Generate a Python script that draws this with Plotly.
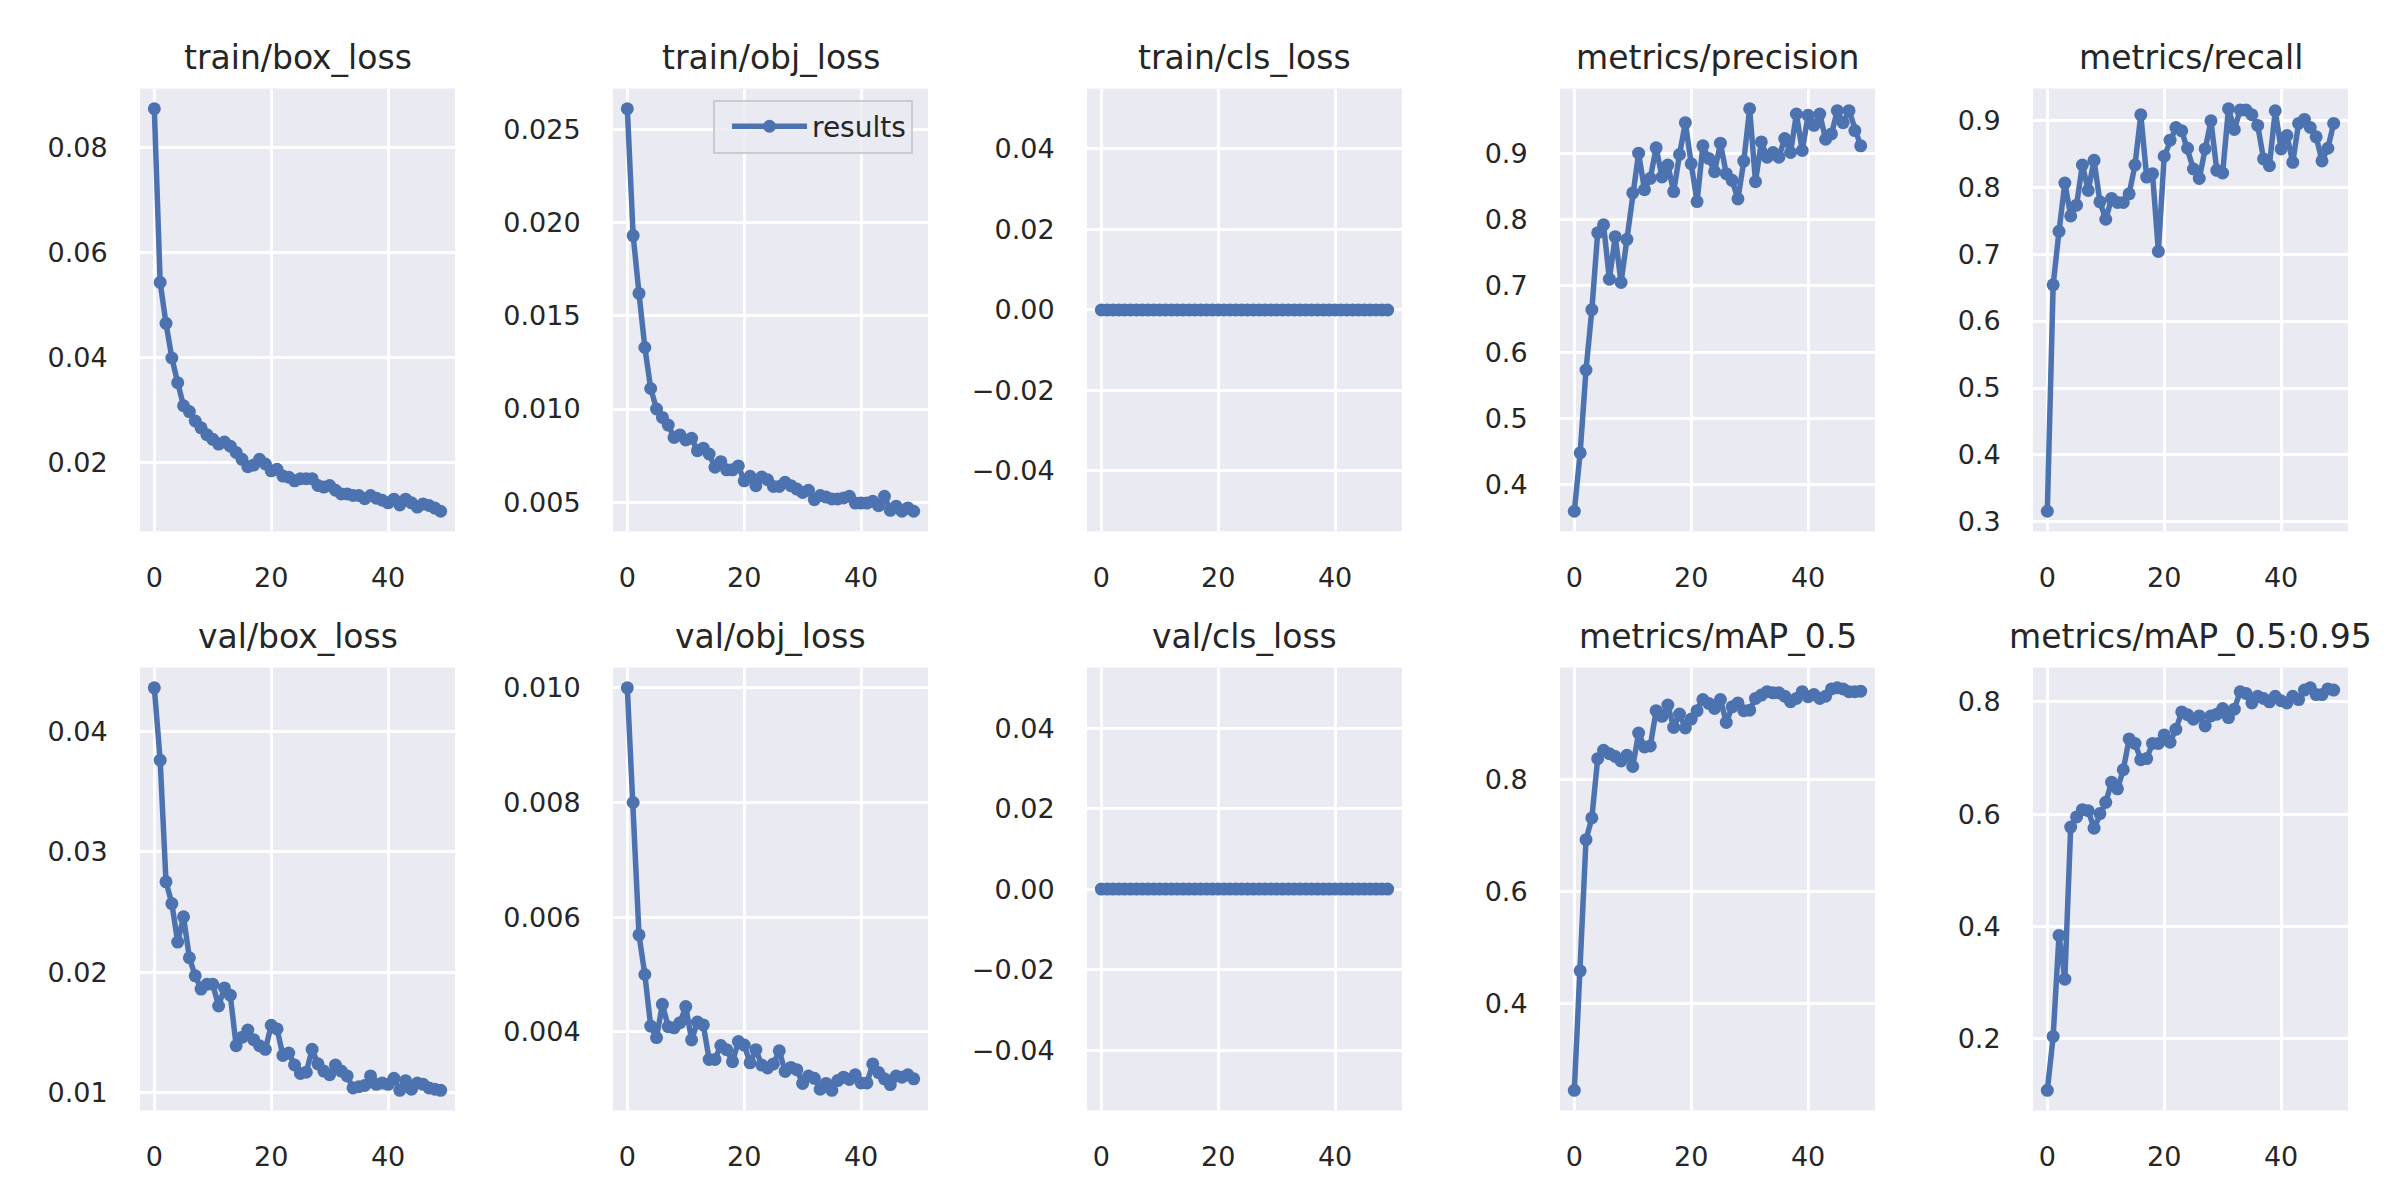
import plotly.graph_objects as go

epochs = list(range(50))

train_box_loss = [0.0874, 0.0543, 0.0465, 0.0399, 0.0352, 0.0308, 0.0297, 0.0279, 0.0266, 0.0253,
                  0.0244, 0.0235, 0.0239, 0.0231, 0.0219, 0.0206, 0.0192, 0.0195, 0.0206, 0.0197,
                  0.0184, 0.0187, 0.0174, 0.0172, 0.0165, 0.0169, 0.0169, 0.0169, 0.0156, 0.0153,
                  0.0156, 0.0147, 0.0140, 0.0140, 0.0137, 0.0137, 0.0131, 0.0137, 0.0132, 0.0128,
                  0.0123, 0.0130, 0.0119, 0.0130, 0.0123, 0.0115, 0.0121, 0.0118, 0.0113, 0.0107]

train_obj_loss = [0.0261, 0.0193, 0.0162, 0.0133, 0.0111, 0.0100, 0.00955, 0.00914, 0.00848, 0.00861,
                  0.00834, 0.00843, 0.00777, 0.00790, 0.00759, 0.00688, 0.00718, 0.00674, 0.00674, 0.00695,
                  0.00615, 0.00639, 0.00589, 0.00635, 0.00621, 0.00585, 0.00585, 0.00607, 0.00589, 0.00571,
                  0.00553, 0.00564, 0.00514, 0.00536, 0.00528, 0.00518, 0.00518, 0.00523, 0.00532, 0.00496,
                  0.00496, 0.00496, 0.00505, 0.00482, 0.00532, 0.00457, 0.00479, 0.00452, 0.00470, 0.00452]

train_cls_loss = [0.0, 0.0, 0.0, 0.0, 0.0, 0.0, 0.0, 0.0, 0.0, 0.0,
                  0.0, 0.0, 0.0, 0.0, 0.0, 0.0, 0.0, 0.0, 0.0, 0.0,
                  0.0, 0.0, 0.0, 0.0, 0.0, 0.0, 0.0, 0.0, 0.0, 0.0,
                  0.0, 0.0, 0.0, 0.0, 0.0, 0.0, 0.0, 0.0, 0.0, 0.0,
                  0.0, 0.0, 0.0, 0.0, 0.0, 0.0, 0.0, 0.0, 0.0, 0.0]

precision = [0.360, 0.448, 0.573, 0.664, 0.780, 0.792, 0.710, 0.774, 0.705, 0.770,
             0.840, 0.900, 0.845, 0.862, 0.908, 0.864, 0.882, 0.842, 0.898, 0.946,
             0.884, 0.827, 0.911, 0.892, 0.872, 0.915, 0.869, 0.859, 0.831, 0.888,
             0.967, 0.857, 0.917, 0.894, 0.901, 0.894, 0.922, 0.901, 0.959, 0.904,
             0.957, 0.942, 0.959, 0.921, 0.929, 0.964, 0.946, 0.964, 0.934, 0.911]

recall = [0.316, 0.654, 0.734, 0.806, 0.757, 0.773, 0.833, 0.795, 0.840, 0.778,
          0.752, 0.783, 0.777, 0.777, 0.790, 0.833, 0.908, 0.815, 0.820, 0.704,
          0.846, 0.870, 0.889, 0.884, 0.858, 0.827, 0.813, 0.857, 0.899, 0.825,
          0.821, 0.917, 0.886, 0.915, 0.915, 0.908, 0.892, 0.842, 0.832, 0.914,
          0.857, 0.877, 0.837, 0.895, 0.901, 0.889, 0.875, 0.839, 0.858, 0.895]

val_box_loss = [0.0436, 0.0376, 0.0275, 0.0257, 0.0225, 0.0246, 0.0212, 0.0197, 0.0186, 0.0190,
                0.0190, 0.0172, 0.0187, 0.0181, 0.0139, 0.0146, 0.0152, 0.0144, 0.0139, 0.0136,
                0.0156, 0.0153, 0.0131, 0.0133, 0.0123, 0.0116, 0.0117, 0.0136, 0.0124, 0.0118,
                0.0115, 0.0123, 0.0118, 0.0114, 0.0104, 0.0105, 0.0106, 0.0114, 0.0107, 0.0108,
                0.0107, 0.0112, 0.0102, 0.0110, 0.0103, 0.0108, 0.0107, 0.0104, 0.0103, 0.0102]

val_obj_loss = [0.0100, 0.0080, 0.00569, 0.00500, 0.00410, 0.00390, 0.00448, 0.00409, 0.00407, 0.00416,
                0.00444, 0.00386, 0.00417, 0.00412, 0.00352, 0.00352, 0.00376, 0.00369, 0.00348, 0.00383,
                0.00377, 0.00346, 0.00369, 0.00342, 0.00337, 0.00344, 0.00367, 0.00331, 0.00338, 0.00334,
                0.00310, 0.00323, 0.00319, 0.00300, 0.00310, 0.00298, 0.00315, 0.00321, 0.00317, 0.00325,
                0.00311, 0.00311, 0.00344, 0.00329, 0.00318, 0.00308, 0.00323, 0.00321, 0.00325, 0.00318]

val_cls_loss = [0.0, 0.0, 0.0, 0.0, 0.0, 0.0, 0.0, 0.0, 0.0, 0.0,
                0.0, 0.0, 0.0, 0.0, 0.0, 0.0, 0.0, 0.0, 0.0, 0.0,
                0.0, 0.0, 0.0, 0.0, 0.0, 0.0, 0.0, 0.0, 0.0, 0.0,
                0.0, 0.0, 0.0, 0.0, 0.0, 0.0, 0.0, 0.0, 0.0, 0.0,
                0.0, 0.0, 0.0, 0.0, 0.0, 0.0, 0.0, 0.0, 0.0, 0.0]

map_05 = [0.244, 0.458, 0.693, 0.732, 0.838, 0.853, 0.847, 0.842, 0.834, 0.844,
          0.824, 0.884, 0.859, 0.861, 0.924, 0.914, 0.934, 0.894, 0.918, 0.893,
          0.909, 0.924, 0.944, 0.937, 0.928, 0.944, 0.903, 0.931, 0.938, 0.924,
          0.925, 0.946, 0.952, 0.958, 0.956, 0.956, 0.950, 0.940, 0.946, 0.958,
          0.949, 0.953, 0.946, 0.950, 0.963, 0.965, 0.963, 0.958, 0.958, 0.959]

map_05_095 = [0.108, 0.204, 0.384, 0.306, 0.577, 0.595, 0.608, 0.606, 0.575, 0.601,
              0.621, 0.657, 0.645, 0.679, 0.734, 0.726, 0.697, 0.699, 0.726, 0.726,
              0.741, 0.728, 0.751, 0.782, 0.777, 0.769, 0.775, 0.757, 0.775, 0.778,
              0.788, 0.772, 0.787, 0.818, 0.815, 0.798, 0.810, 0.806, 0.800, 0.810,
              0.802, 0.798, 0.810, 0.804, 0.821, 0.825, 0.813, 0.813, 0.823, 0.821]

titles = ["train/box_loss", "train/obj_loss", "train/cls_loss", "metrics/precision", "metrics/recall",
          "val/box_loss", "val/obj_loss", "val/cls_loss", "metrics/mAP_0.5", "metrics/mAP_0.5:0.95"]

x_tickvals = [0, 20, 40]
x_ticktext = ["0", "20", "40"]

box_ticks = [0.02, 0.04, 0.06, 0.08]
box_ticktext = ["0.02", "0.04", "0.06", "0.08"]
obj_ticks = [0.005, 0.010, 0.015, 0.020, 0.025]
obj_ticktext = ["0.005", "0.010", "0.015", "0.020", "0.025"]
cls_ticks = [-0.04, -0.02, 0.0, 0.02, 0.04]
cls_ticktext = ["\u22120.04", "\u22120.02", "0.00", "0.02", "0.04"]
prec_ticks = [0.4, 0.5, 0.6, 0.7, 0.8, 0.9]
prec_ticktext = ["0.4", "0.5", "0.6", "0.7", "0.8", "0.9"]
rec_ticks = [0.3, 0.4, 0.5, 0.6, 0.7, 0.8, 0.9]
rec_ticktext = ["0.3", "0.4", "0.5", "0.6", "0.7", "0.8", "0.9"]
vbox_ticks = [0.01, 0.02, 0.03, 0.04]
vbox_ticktext = ["0.01", "0.02", "0.03", "0.04"]
vobj_ticks = [0.004, 0.006, 0.008, 0.010]
vobj_ticktext = ["0.004", "0.006", "0.008", "0.010"]
map_ticks = [0.4, 0.6, 0.8]
map_ticktext = ["0.4", "0.6", "0.8"]
map95_ticks = [0.2, 0.4, 0.6, 0.8]
map95_ticktext = ["0.2", "0.4", "0.6", "0.8"]

series = [train_box_loss, train_obj_loss, train_cls_loss, precision, recall,
          val_box_loss, val_obj_loss, val_cls_loss, map_05, map_05_095]
yticks = [(box_ticks, box_ticktext), (obj_ticks, obj_ticktext), (cls_ticks, cls_ticktext),
          (prec_ticks, prec_ticktext), (rec_ticks, rec_ticktext),
          (vbox_ticks, vbox_ticktext), (vobj_ticks, vobj_ticktext), (cls_ticks, cls_ticktext),
          (map_ticks, map_ticktext), (map95_ticks, map95_ticktext)]

W, H = 2400, 1200
col_left = [132, 605, 1079, 1552, 2025]
col_w = 315
row_top = [81, 663]
row_h = 445

BLUE = "#4C72B0"
TEXT = "#262626"
FONT = "DejaVu Sans"

fig = go.Figure()
layout = dict(
    width=W, height=H,
    margin=dict(l=0, r=0, t=0, b=0),
    paper_bgcolor="white",
    plot_bgcolor="#EAEAF2",
    font=dict(family=FONT, color=TEXT, size=27),
    showlegend=True,
    legend=dict(
        x=905 / W, xanchor="right", y=1 - 92 / H, yanchor="top",
        bgcolor="rgba(234,234,242,0.8)", bordercolor="#CCCCCC", borderwidth=2,
        font=dict(family=FONT, size=28, color=TEXT),
        itemwidth=75, indentation=12,
    ),
)
annotations = []

for i, (ys, title) in enumerate(zip(series, titles)):
    r, c = divmod(i, 5)
    n = i + 1
    xa = "x" if n == 1 else f"x{n}"
    ya = "y" if n == 1 else f"y{n}"
    fig.add_trace(go.Scatter(
        x=epochs, y=ys, mode="lines+markers", name="results",
        line=dict(color=BLUE, width=5.5),
        marker=dict(color=BLUE, size=13),
        xaxis=xa, yaxis=ya,
        showlegend=(i == 1),
    ))
    lo, hi = min(ys), max(ys)
    if hi == lo:
        lo, hi = lo - 0.05, hi + 0.05
    pad = 0.05 * (hi - lo)
    x0 = col_left[c] / W
    x1 = (col_left[c] + col_w) / W
    ytop = row_top[r]
    y1 = 1 - ytop / H
    y0 = 1 - (ytop + row_h) / H
    tv, tt = yticks[i]
    layout["xaxis" if n == 1 else f"xaxis{n}"] = dict(
        domain=[x0, x1], anchor=ya, range=[-2.45, 51.45],
        tickvals=x_tickvals, ticktext=x_ticktext,
        showgrid=True, gridcolor="white", gridwidth=3,
        zeroline=False, showline=False,
        ticks="outside", ticklen=22, tickcolor="rgba(0,0,0,0)",
        tickfont=dict(family=FONT, size=27, color=TEXT),
    )
    layout["yaxis" if n == 1 else f"yaxis{n}"] = dict(
        domain=[y0, y1], anchor=xa, range=[lo - pad, hi + pad],
        tickvals=tv, ticktext=tt,
        showgrid=True, gridcolor="white", gridwidth=3,
        zeroline=False, showline=False,
        ticks="outside", ticklen=26, tickcolor="rgba(0,0,0,0)",
        tickfont=dict(family=FONT, size=27, color=TEXT),
    )
    annotations.append(dict(
        text=title, xref="paper", yref="paper",
        x=(x0 + x1) / 2, y=1 - (ytop - 31) / H,
        xanchor="center", yanchor="middle", showarrow=False,
        font=dict(family=FONT, size=33, color=TEXT),
    ))

layout["annotations"] = annotations
fig.update_layout(**layout)
fig.write_html("out.html")
